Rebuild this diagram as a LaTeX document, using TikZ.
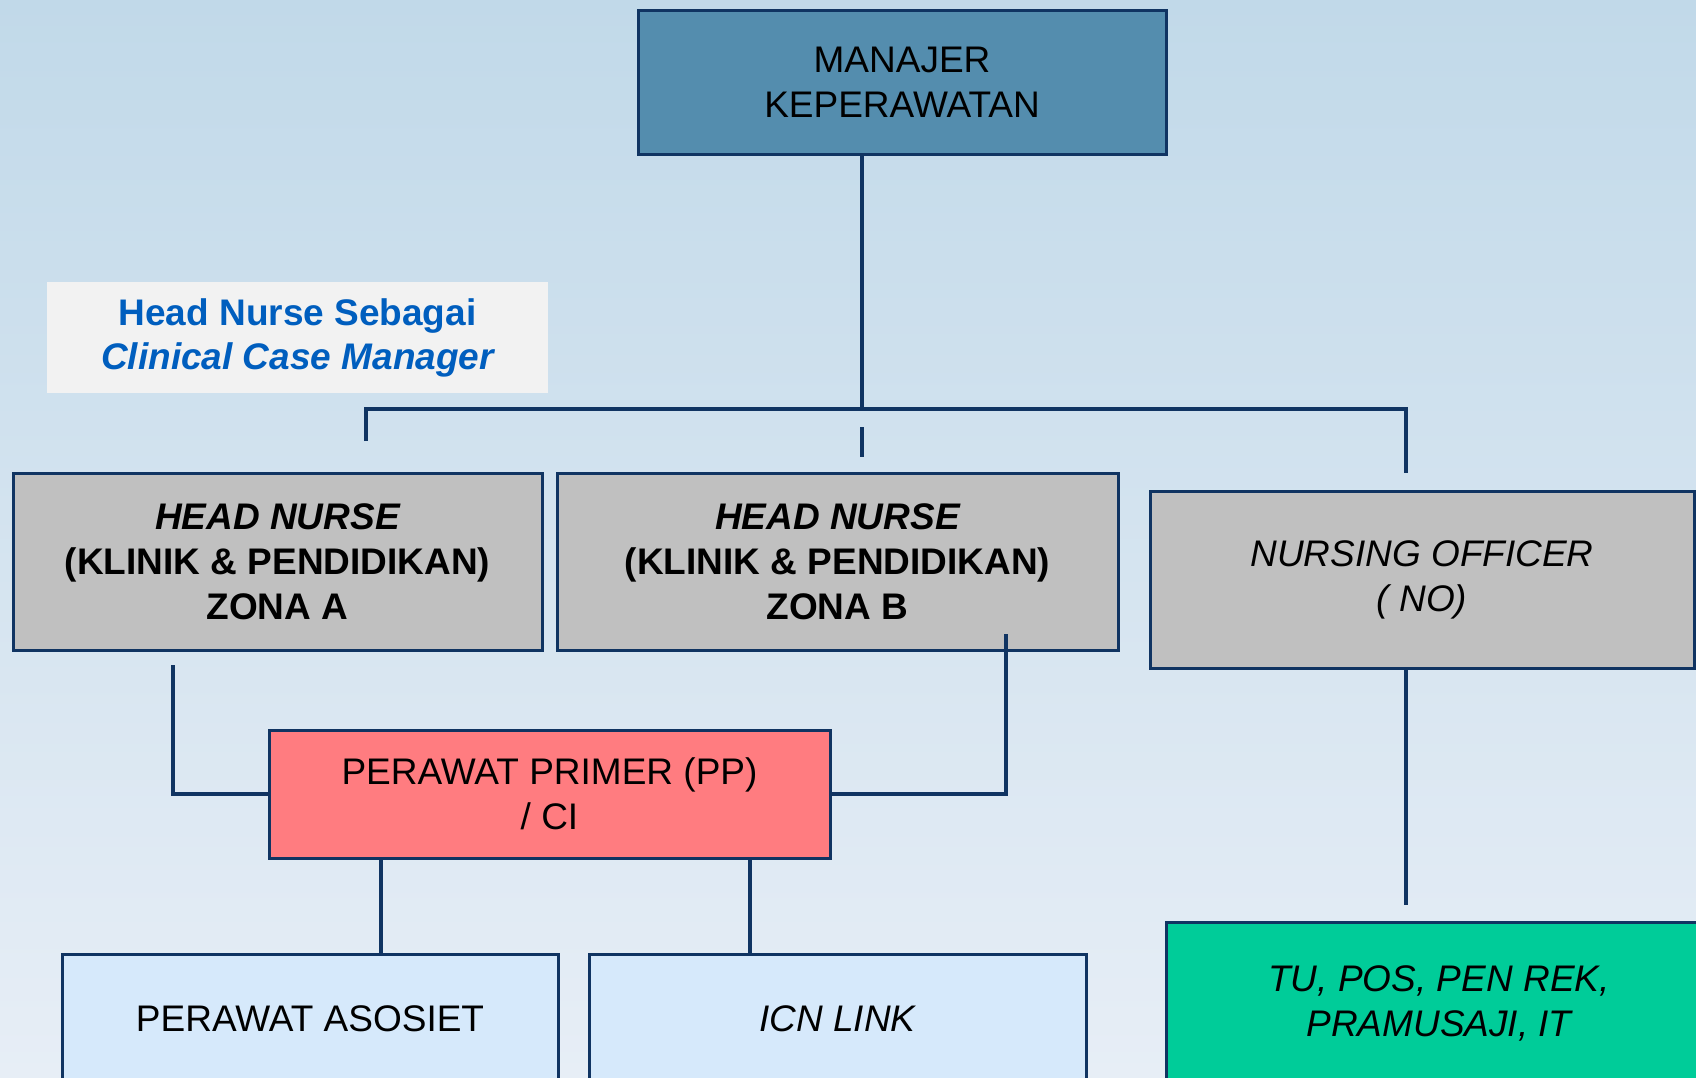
\documentclass[tikz,border=0pt]{standalone}
\usepackage{fontspec}
\setmainfont{Liberation Sans}
\usetikzlibrary{positioning}

\definecolor{bgtop}{RGB}{193,217,233}
\definecolor{bgbot}{RGB}{231,238,246}
\definecolor{navy}{RGB}{16,52,98}
\definecolor{mgrfill}{RGB}{84,141,174}
\definecolor{grayfill}{RGB}{192,192,192}
\definecolor{ppfill}{RGB}{255,124,128}
\definecolor{stafffill}{RGB}{214,233,251}
\definecolor{greenfill}{RGB}{0,204,153}
\definecolor{noteblue}{RGB}{0,94,190}

\begin{document}
\begin{tikzpicture}[x=0.5pt,y=-0.5pt]
    \tikzset{box/.style = {draw=navy, line width=1.5pt, inner sep=0pt, outer sep=0pt, align=center,
                           font=\fontsize{18.5}{22.5}\selectfont}}
    \tikzset{link/.style = {draw=navy, line width=1.7pt, -}}

    \useasboundingbox (0,0) rectangle (1696,1077);
    \clip (0,0) rectangle (1696,1077);
    \shade[top color=bgtop, bottom color=bgbot] (0,0) rectangle (1696,1077);

    % nodes
    \node[box, fill=mgrfill, minimum width=264pt, minimum height=72pt] (mgr) at (902,82) {MANAJER\\KEPERAWATAN};
    \node[fill=black!5, inner sep=0pt, minimum width=250.5pt, minimum height=55.5pt, align=center,
          text=noteblue, font=\fontsize{18.5}{22}\selectfont\bfseries] (note) at (297.5,337.5)
          {Head Nurse Sebagai\\\itshape Clinical Case Manager};
    \node[box, fill=grayfill, minimum width=264.5pt, minimum height=88.5pt, font=\fontsize{18.5}{22.5}\selectfont\bfseries] (hna) at (277.5,561.5)
          {\itshape HEAD NURSE\\(KLINIK \& PENDIDIKAN)\\ZONA A};
    \node[box, fill=grayfill, minimum width=280.5pt, minimum height=88.5pt, font=\fontsize{18.5}{22.5}\selectfont\bfseries] (hnb) at (837.5,561.5)
          {\itshape HEAD NURSE\\(KLINIK \& PENDIDIKAN)\\ZONA B};
    \node[box, fill=grayfill, minimum width=272pt, minimum height=88.5pt, font=\fontsize{18.5}{22.5}\selectfont\itshape] (nof) at (1422,579.5)
          {NURSING OFFICER\\( NO)};
    \node[box, fill=ppfill, minimum width=280.5pt, minimum height=64pt] (pp) at (549.5,794)
          {PERAWAT PRIMER (PP)\\/ CI};
    \node[box, fill=stafffill, minimum width=248pt, minimum height=65pt] (asos) at (310,1019) {PERAWAT ASOSIET};
    \node[box, fill=stafffill, minimum width=248.5pt, minimum height=65pt, font=\fontsize{18.5}{22.5}\selectfont\itshape] (icn) at (837.5,1019) {ICN LINK};
    \node[box, fill=greenfill, minimum width=273pt, minimum height=81pt, font=\fontsize{18.5}{22.5}\selectfont\itshape] (misc) at (1439,1003)
          {TU, POS, PEN REK,\\PRAMUSAJI, IT};

    % free ends
    \coordinate (hub) at (862,409);
    \coordinate (busl) at (366,409);
    \coordinate (busr) at (1406,409);
    \coordinate (dropl) at (366,441);
    \coordinate (dropr) at (1406,473);
    \coordinate (tickt) at (862,427);
    \coordinate (tickb) at (862,457);
    \coordinate (hnaout) at (173,665);
    \coordinate (hnbout) at (1006,634);
    \coordinate (miscin) at (1406,905);

    % edges
    \draw[link] (mgr.south -| hub) to (hub);
    \draw[link] (dropl) -- (busl) -- (busr) -- (dropr);
    \draw[link] (tickt) to (tickb);
    \draw[link] (hnaout) |- (pp.west);
    \draw[link] (hnbout) |- (pp.east);
    \draw[link] (pp.south -| 381,0) to (asos.north -| 381,0);
    \draw[link] (pp.south -| 750,0) to (icn.north -| 750,0);
    \draw[link] (nof.south -| miscin) to (miscin);
\end{tikzpicture}
\end{document}
